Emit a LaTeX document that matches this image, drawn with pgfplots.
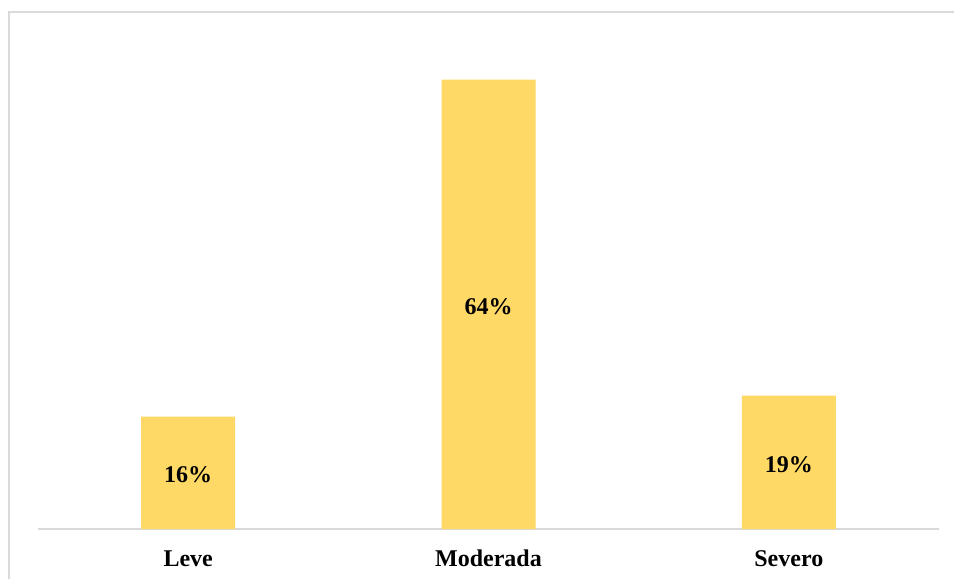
\documentclass[border=0pt]{standalone}
\usepackage{fontspec}
\setmainfont{Liberation Serif}
\usepackage{pgfplots}
\pgfplotsset{compat=1.18}
\definecolor{barfill}{HTML}{FFD966}
\definecolor{linegray}{HTML}{D9D9D9}
\begin{document}
\begin{tikzpicture}[x=1pt,y=1pt]
\useasboundingbox (0,0) rectangle (954,579);
% chart frame (only left and top edges are visible)
\draw[linegray, line width=1.5pt] (9,0) -- (9,567) -- (960,567);
\begin{axis}[
    at={(38pt,50pt)}, anchor=south west,
    scale only axis,
    width=901pt, height=491.4pt,
    xmin=-0.5, xmax=2.5,
    ymin=0, ymax=70,
    ybar, bar width=94pt,
    hide y axis,
    axis x line*=bottom,
    x axis line style={-, linegray, line width=1.5pt},
    xtick=data,
    xticklabels={Leve,Moderada,Severo},
    major tick length=0pt,
    xticklabel style={font=\fontsize{24}{28}\selectfont\bfseries, anchor=base, yshift=-37pt},
    clip=false,
    visualization depends on=y \as \rawy,
    nodes near coords={\pgfmathprintnumber[assume math mode=true]{\pgfplotspointmeta}\%},
    every node near coord/.append style={font=\fontsize{24}{28}\selectfont\bfseries,
        anchor=center, shift={(axis direction cs:0,-\rawy/2)}, yshift=-2pt},
]
\addplot[fill=barfill, draw=none] coordinates {(0,16) (1,64) (2,19)};
\end{axis}
\end{tikzpicture}
\end{document}
